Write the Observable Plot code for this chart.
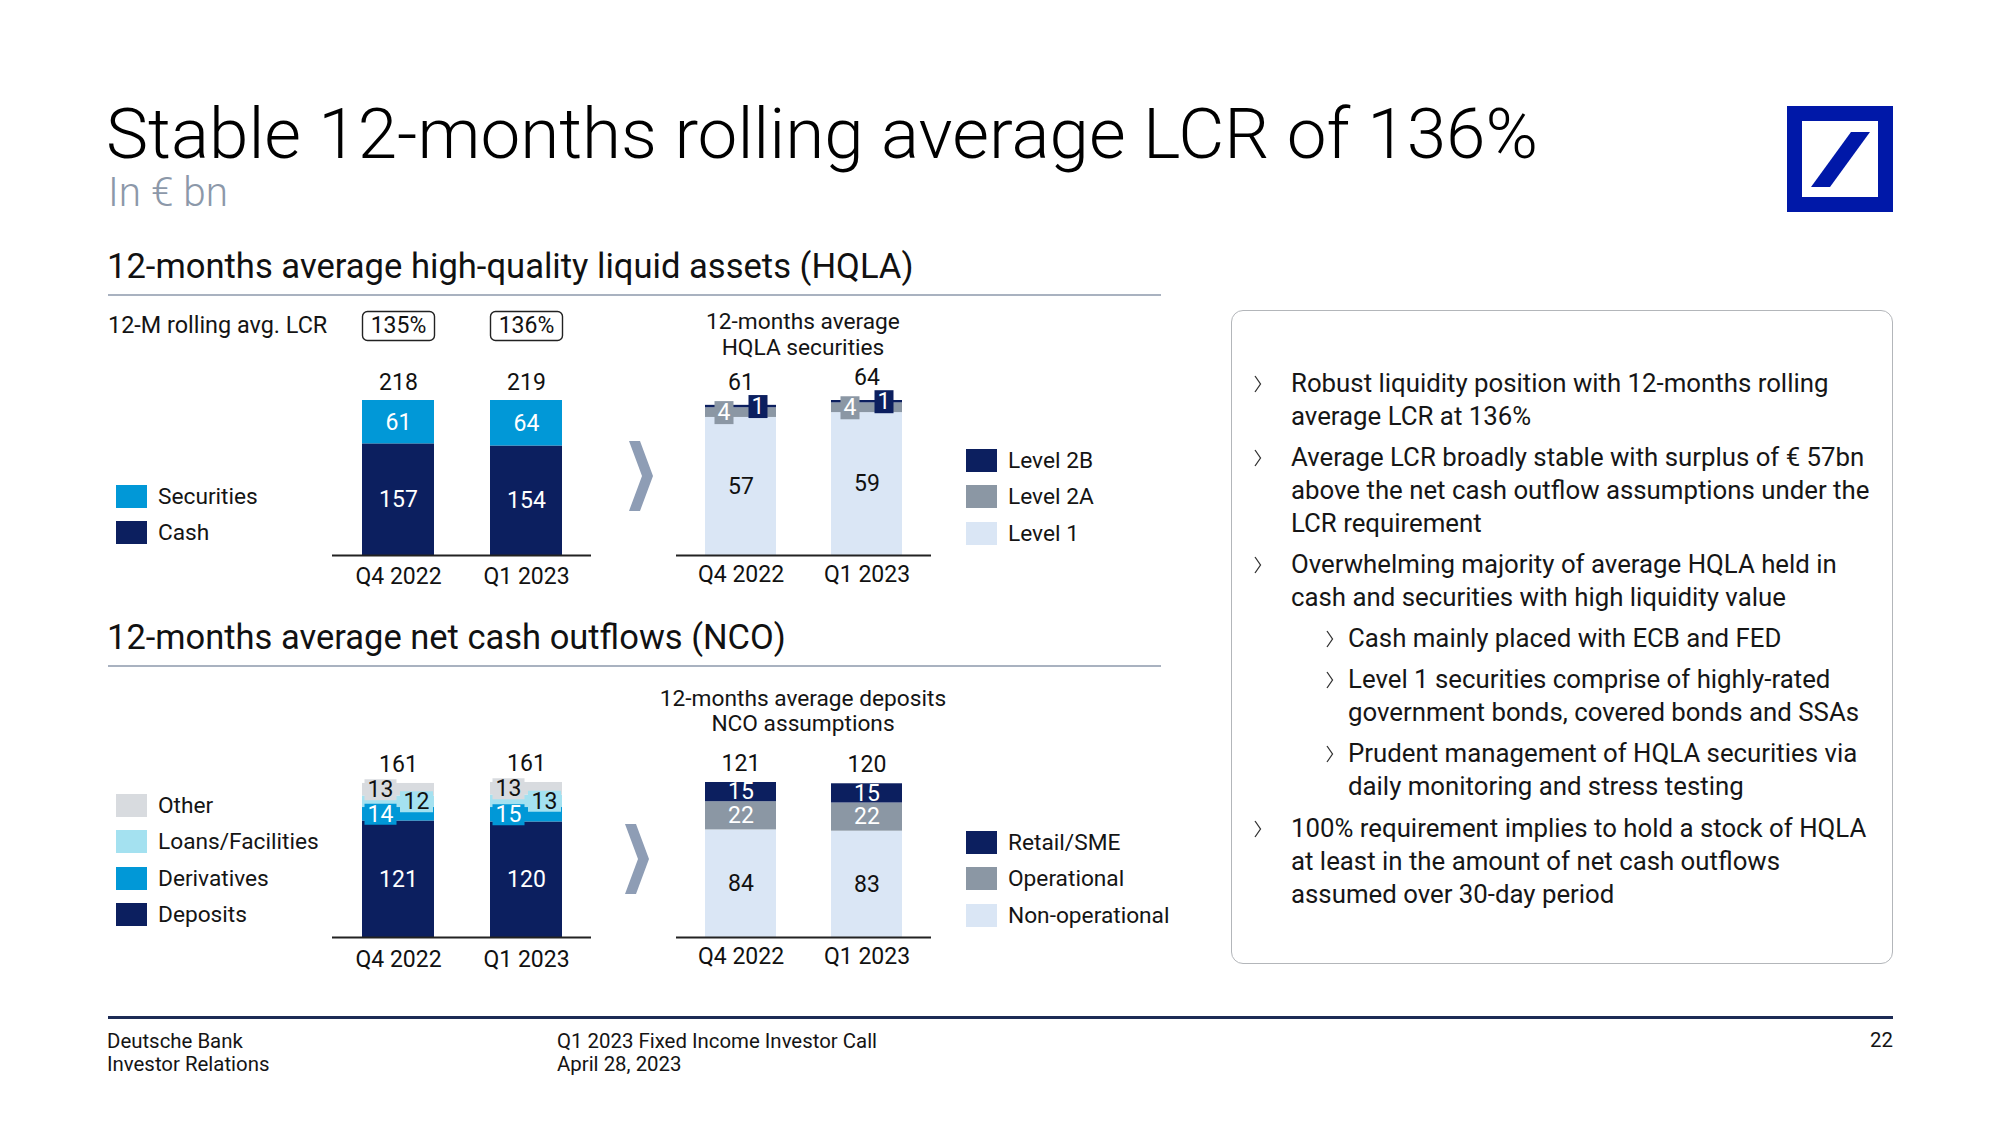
<!DOCTYPE html>
<html><head><meta charset="utf-8">
<script src="https://cdn.jsdelivr.net/npm/d3@7"></script>
<script src="https://cdn.jsdelivr.net/npm/@observablehq/plot@0.6"></script>
<style>
body{margin:0;background:#fff;}
#slide{position:relative;width:2000px;height:1125px;overflow:hidden;font-family:Roboto,"Noto Sans",sans-serif;color:#141414;background:#fff;}
.abs{position:absolute;white-space:nowrap;}
</style></head><body><div id="slide"></div>
<script>
// ---------- data ----------
const periods = ["Q4 2022", "Q1 2023"];
const lcr = [135, 136];

const hqlaSeries = ["Cash", "Securities"];
const hqlaCash = [157, 154];
const hqlaSecurities = [61, 64];
const hqlaTotals = [218, 219];

const secSeries = ["Level 1", "Level 2A", "Level 2B"];
const secLevel1 = [57, 59];
const secLevel2A = [4, 4];
const secLevel2B = [1, 1];
const secTotals = [61, 64];

const ncoSeries = ["Deposits", "Derivatives", "Loans/Facilities", "Other"];
const ncoDeposits = [121, 120];
const ncoDerivatives = [14, 15];
const ncoLoans = [12, 13];
const ncoOther = [13, 13];
const ncoTotals = [161, 161];

const depSeries = ["Non-operational", "Operational", "Retail/SME"];
const depNonOperational = [84, 83];
const depOperational = [22, 22];
const depRetail = [15, 15];
const depTotals = [121, 120];

// ---------- styles ----------
const FONT = "Roboto, 'Noto Sans', sans-serif";
const NAVY = "#0c1f5f", BLUE = "#0198d7", CYAN = "#a4e1f0", LGRAY = "#d8dbdf", GRAY = "#8b97a4", LBLUE = "#dae6f5";
const W = 2000;
const slide = document.getElementById("slide");

function txt(str, x, cy, size, opts = {}) {
  const d = document.createElement("div");
  d.className = "abs";
  d.textContent = str;
  const lh = opts.lh || Math.round(size * 1.2);
  d.style.fontSize = size + "px";
  d.style.lineHeight = lh + "px";
  d.style.top = (cy - lh / 2) + "px";
  if (opts.align === "center") { d.style.left = (x - 500) + "px"; d.style.width = "1000px"; d.style.textAlign = "center"; }
  else if (opts.align === "right") { d.style.right = (W - x) + "px"; d.style.textAlign = "right"; }
  else d.style.left = x + "px";
  if (opts.color) d.style.color = opts.color;
  if (opts.weight) d.style.fontWeight = opts.weight;
  slide.appendChild(d);
  return d;
}
function box(x, y, w, h, css) {
  const d = document.createElement("div");
  d.className = "abs";
  Object.assign(d.style, {left: x + "px", top: y + "px", width: w + "px", height: h + "px"}, css);
  slide.appendChild(d);
  return d;
}
function svgEl(x, y, w, h, inner) {
  const d = document.createElement("div");
  d.className = "abs";
  Object.assign(d.style, {left: x + "px", top: y + "px", width: w + "px", height: h + "px"});
  d.innerHTML = `<svg width="${w}" height="${h}" viewBox="0 0 ${w} ${h}" style="display:block">${inner}</svg>`;
  slide.appendChild(d);
}

// ---------- header ----------
txt("Stable 12-months rolling average LCR of 136%", 106, 134, 71, {weight: 300, color: "#000", lh: 70});
txt("In € bn", 108, 192, 40.5, {weight: 300, color: "#8c98a9", lh: 42});
// logo
box(1787, 106, 76, 76, {border: "15px solid #0018a8"});
svgEl(1787, 106, 106, 106, `<polygon points="24,81 43,81 83,26 64,26" fill="#0018a8"/>`);

// section headings
txt("12-months average high-quality liquid assets (HQLA)", 107, 266, 34.6, {color: "#111"});
box(108, 294, 1053, 2, {background: "#a9b2c0"});
txt("12-months average net cash outflows (NCO)", 107, 637, 34.5, {color: "#111"});
box(108, 665, 1053, 2, {background: "#a9b2c0"});

txt("12-M rolling avg. LCR", 108, 325, 23.4);

// chart subtitles
txt("12-months average", 803, 321, 22.7, {align: "center"});
txt("HQLA securities", 803, 347, 22.7, {align: "center"});
txt("12-months average deposits", 803, 698, 22.7, {align: "center"});
txt("NCO assumptions", 803, 723, 22.7, {align: "center"});

// chevrons between charts
const chev = `<polygon points="0,0 11,0 24,35 11,70 0,70 13,35" fill="#8e9db5"/>`;
svgEl(629, 441, 24, 70, chev);
svgEl(625, 824, 24, 70, chev);

// ---------- legends ----------
function legend(series, colors, x, yTop, sw) {
  const items = series.map((s, i) => ({s, c: colors[i]})).reverse();
  items.forEach((it, k) => {
    const y = yTop + k * 36.3;
    box(x, y, sw, 23, {background: it.c});
    txt(it.s, x + sw + 11, y + 11.5, 22.7);
  });
}
legend(hqlaSeries, [NAVY, BLUE], 116, 485, 31);
legend(secSeries, [LBLUE, GRAY, NAVY], 966, 449, 31);
legend(ncoSeries, [NAVY, BLUE, CYAN, LGRAY], 116, 794, 31);
legend(depSeries, [LBLUE, GRAY, NAVY], 966, 831, 31);

// ---------- charts ----------
const rectSymbol = (w, h, rad = 0) => ({
  draw(ctx) {
    const x0 = -w / 2, y0 = -h / 2, x1 = w / 2, y1 = h / 2;
    if (!rad) { ctx.rect(x0, y0, w, h); return; }
    ctx.moveTo(x0 + rad, y0);
    ctx.arcTo(x1, y0, x1, y1, rad);
    ctx.arcTo(x1, y1, x0, y1, rad);
    ctx.arcTo(x0, y1, x0, y0, rad);
    ctx.arcTo(x0, y0, x1, y0, rad);
    ctx.closePath();
  }
});

function stackedChart(cfg) {
  const {series, values, colors, textColors, totals, left, top, width, totalDy, boxes = {}, axisPad, extra = []} = cfg;
  const rows = [];
  periods.forEach((p, i) => {
    let acc = 0;
    series.forEach((s, j) => {
      const v = values[j][i];
      rows.push({period: p, series: s, value: v, y1: acc, y2: acc + v, mid: acc + v / 2, j});
      acc += v;
    });
  });
  const tops = periods.map((p, i) => ({period: p, top: d3.sum(values, a => a[i]), total: totals[i]}));
  const ymax = d3.max(tops, d => d.top);
  const marks = [
    Plot.barY(rows, {x: "period", y1: "y1", y2: "y2", fill: "series"}),
    Plot.ruleY([0], {stroke: "#222", strokeWidth: 2})
  ];
  const plainRows = rows.filter(d => !boxes[d.series]);
  for (const c of new Set(textColors)) {
    const rs = plainRows.filter(d => textColors[d.j] === c);
    marks.push(Plot.text(rs, {x: "period", y: "mid", text: d => String(d.value), fill: c, fontSize: 23}));
  }
  series.forEach((s, j) => {
    const b = boxes[s];
    if (!b) return;
    const rs = rows.filter(d => d.series === s);
    marks.push(Plot.dot(rs, {x: "period", y: "mid", dx: b.dx, symbol: rectSymbol(b.w, b.h), fill: colors[j], stroke: "none", r: 5}));
    marks.push(Plot.text(rs, {x: "period", y: "mid", dx: b.dx, text: d => String(d.value), fill: textColors[j], fontSize: 23}));
  });
  marks.push(Plot.text(tops, {x: "period", y: "top", dy: totalDy, text: d => String(d.total), fill: "#111", fontSize: 23}));
  marks.push(Plot.axisX({tickSize: 0, tickPadding: axisPad, fontSize: 23, label: null, fill: "#111"}));
  marks.push(...extra);
  const plot = Plot.plot({
    width, height: 310, marginTop: 110, marginBottom: 45, marginLeft: 0, marginRight: 0,
    style: {fontFamily: FONT, fontSize: "23px", color: "#111", background: "transparent", overflow: "visible"},
    x: {domain: periods, paddingInner: 0.44, paddingOuter: 0.226, label: null},
    y: {domain: [0, ymax], axis: null},
    color: {domain: series, range: colors},
    marks
  });
  plot.style.position = "absolute";
  plot.style.left = left + "px";
  plot.style.top = top + "px";
  slide.appendChild(plot);
}

const lcrRows = periods.map((p, i) => ({period: p, lcr: lcr[i]}));

stackedChart({
  series: hqlaSeries, values: [hqlaCash, hqlaSecurities], colors: [NAVY, BLUE], textColors: ["#fff", "#fff"],
  totals: hqlaTotals, left: 332, top: 290, width: 259, totalDy: -18, axisPad: 12,
  extra: [
    Plot.dot(lcrRows, {x: "period", frameAnchor: "top", dy: -74.5, symbol: rectSymbol(72, 29, 5), fill: "white", stroke: "#222", strokeWidth: 1.4, r: 5}),
    Plot.text(lcrRows, {x: "period", frameAnchor: "top", lineAnchor: "middle", dy: -74.5, text: d => d.lcr + "%", fontSize: 23, fill: "#111"})
  ]
});

stackedChart({
  series: secSeries, values: [secLevel1, secLevel2A, secLevel2B], colors: [LBLUE, GRAY, NAVY], textColors: ["#111", "#fff", "#fff"],
  totals: secTotals, left: 676, top: 290, width: 255, totalDy: -23, axisPad: 10,
  boxes: {"Level 2A": {dx: -17, w: 19, h: 23}, "Level 2B": {dx: 17, w: 19, h: 23}}
});

stackedChart({
  series: ncoSeries, values: [ncoDeposits, ncoDerivatives, ncoLoans, ncoOther], colors: [NAVY, BLUE, CYAN, LGRAY], textColors: ["#fff", "#fff", "#111", "#111"],
  totals: ncoTotals, left: 332, top: 672, width: 259, totalDy: -19, axisPad: 13,
  boxes: {"Derivatives": {dx: -18, w: 32, h: 21}, "Loans/Facilities": {dx: 18, w: 33, h: 21}, "Other": {dx: -18, w: 32, h: 21}}
});

stackedChart({
  series: depSeries, values: [depNonOperational, depOperational, depRetail], colors: [LBLUE, GRAY, NAVY], textColors: ["#111", "#fff", "#fff"],
  totals: depTotals, left: 676, top: 672, width: 255, totalDy: -19, axisPad: 10
});

// ---------- right panel ----------
box(1231, 310, 660, 652, {border: "1.5px solid #b3b6ba", borderRadius: "12px"});
const bullets = [
  {lvl: 0, cy: 383, lines: ["Robust liquidity position with 12-months rolling", "average LCR at 136%"]},
  {lvl: 0, cy: 457, lines: ["Average LCR broadly stable with surplus of € 57bn", "above the net cash outflow assumptions under the", "LCR requirement"]},
  {lvl: 0, cy: 564, lines: ["Overwhelming majority of average HQLA held in", "cash and securities with high liquidity value"]},
  {lvl: 1, cy: 638, lines: ["Cash mainly placed with ECB and FED"]},
  {lvl: 1, cy: 679, lines: ["Level 1 securities comprise of highly-rated", "government bonds, covered bonds and SSAs"]},
  {lvl: 1, cy: 753, lines: ["Prudent management of HQLA securities via", "daily monitoring and stress testing"]},
  {lvl: 0, cy: 828, lines: ["100% requirement implies to hold a stock of HQLA", "at least in the amount of net cash outflows", "assumed over 30-day period"]}
];
bullets.forEach(b => {
  const cx = b.lvl ? 1326 : 1254;
  const tx = b.lvl ? 1348 : 1291;
  svgEl(cx, b.cy - 8, 8, 18, `<polyline points="1,1 6.5,9 1,17" fill="none" stroke="#333" stroke-width="1.3"/>`);
  b.lines.forEach((l, k) => txt(l, tx, b.cy + k * 33.2, 25.8, {color: "#161616", lh: 32}));
});

// ---------- footer ----------
box(108, 1016, 1785, 2.5, {background: "#1d2b55"});
txt("Deutsche Bank", 107, 1041, 20.4, {lh: 22});
txt("Investor Relations", 107, 1064, 20.4, {lh: 22});
txt("Q1 2023 Fixed Income Investor Call", 557, 1041, 20.4, {lh: 22});
txt("April 28, 2023", 557, 1064, 20.4, {lh: 22});
txt("22", 1893, 1040, 20.4, {align: "right", lh: 22});
</script>
</body></html>
